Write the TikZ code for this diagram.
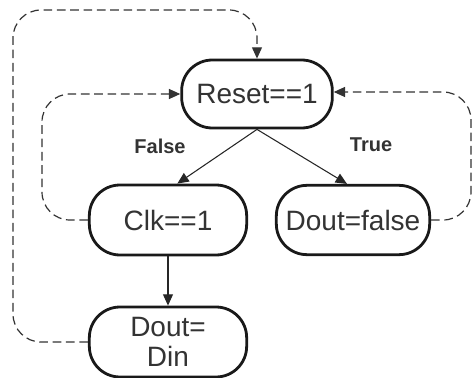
\documentclass[tikz,border=0pt]{standalone}
\usepackage{fontspec}
\setmainfont{Liberation Sans}
\usetikzlibrary{arrows.meta}
\begin{document}
\begin{tikzpicture}[x=0.75pt,y=-0.75pt,
  statebox/.style={draw=black!90,line width=2.1pt,rounded corners=23pt,inner sep=0pt,
    font=\fontsize{21}{22}\selectfont,text=black!80,align=center},
  flow/.style={line width=0.8pt,draw=black!85,-{Triangle[length=8.5pt,width=7.5pt]}},
  loop/.style={line width=0.9pt,draw=black!80,dash pattern=on 6.5pt off 3.5pt,rounded corners=21pt,-{Triangle[length=8.5pt,width=7.5pt]}},
  lbl/.style={font=\bfseries\fontsize{15}{16}\selectfont,text=black!80}]
\useasboundingbox (0,0) rectangle (475,378);
\node[statebox,minimum width=113pt,minimum height=51pt] (reset) at (257,94) {Reset==1};
\node[statebox,minimum width=118pt,minimum height=52.5pt] (clk) at (168,220) {Clk==1};
\node[statebox,minimum width=115pt,minimum height=52pt] (dfalse) at (353,220) {Dout=false};
\node[statebox,minimum width=118pt,minimum height=52.5pt] (din) at (168,342) {Dout=\\Din};
\node[lbl] (lfalse) at (160,146) {False};
\node[lbl] (ltrue) at (371,145) {True};
\draw[flow] (reset.south) -- ([xshift=7pt]clk.north);
\draw[flow] (reset.south) -- ([xshift=-4.5pt]dfalse.north);
\draw[flow] (clk.south) -- (din.north);
\coordinate (tl) at (13,10);
\coordinate (il) at (42,94);
\coordinate (ir) at (471,92);
\draw[loop] (din.west) -| (tl) -| (reset.north);
\draw[loop] (clk.west) -| (il) -- (reset.west);
\draw[loop] (dfalse.east) -| (ir) -- ([yshift=1.5pt]reset.east);
\end{tikzpicture}
\end{document}
